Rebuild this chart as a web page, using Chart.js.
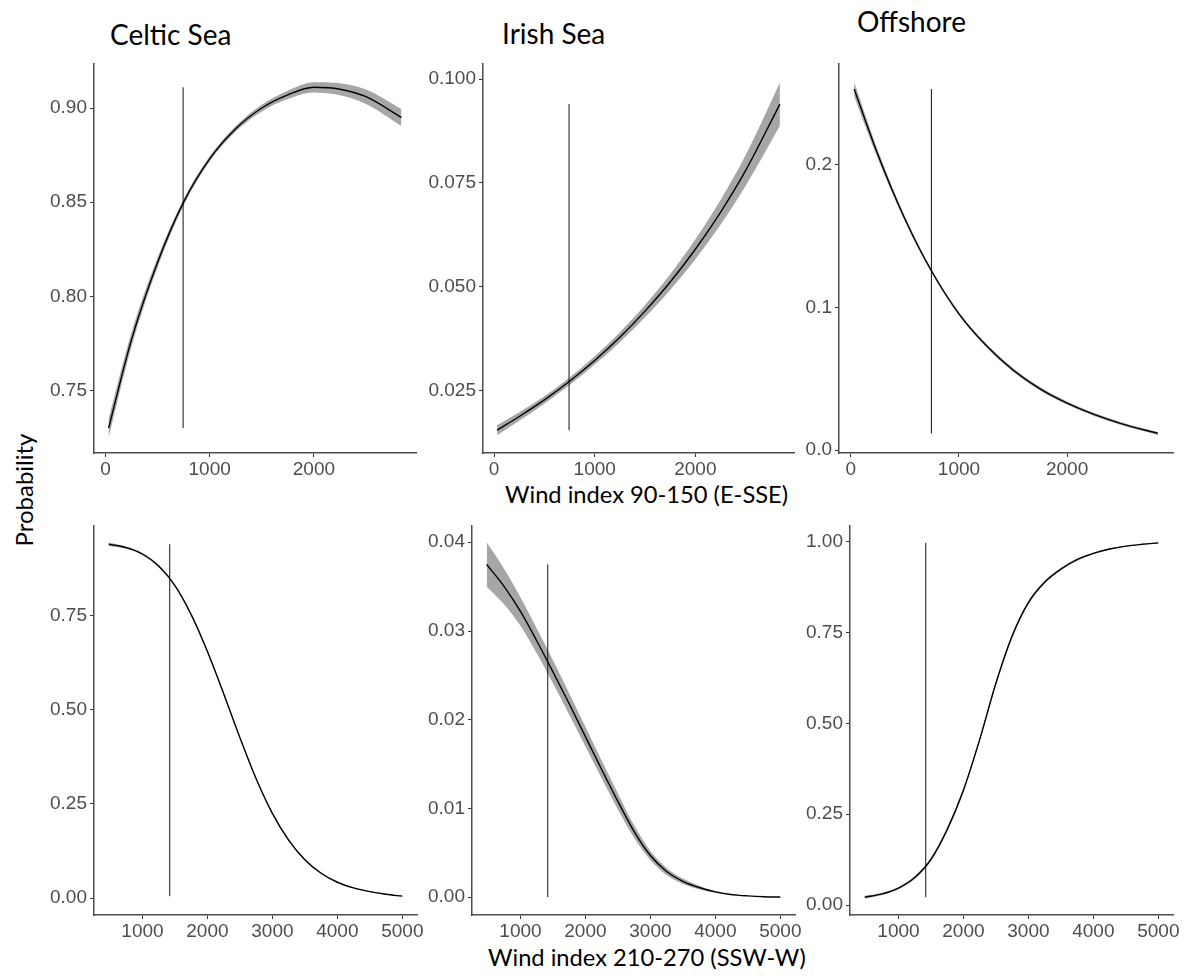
<!DOCTYPE html>
<html>
<head>
<meta charset="utf-8">
<title>Wind index effects</title>
<script src="https://cdn.jsdelivr.net/npm/chart.js@4.4.1/dist/chart.umd.min.js"></script>
<style>
  body { margin: 0; background: #fff; width: 1194px; height: 976px; position: relative; overflow: hidden; }
  canvas { position: absolute; }
  .lbl { position: absolute; font-family: Lato, "Open Sans", sans-serif; color: #000; line-height: 1; white-space: nowrap; }
</style>
</head>
<body>
<div class="lbl" style="left:110px; top:20px; font-size:28px">Celtic Sea</div>
<div class="lbl" style="left:502px; top:19px; font-size:28px">Irish Sea</div>
<div class="lbl" style="left:857px; top:7px; font-size:28px">Offshore</div>
<div class="lbl" style="left:505px; top:483px; font-size:23.7px">Wind index 90-150 (E-SSE)</div>
<div class="lbl" style="left:488px; top:946px; font-size:23.7px">Wind index 210-270 (SSW-W)</div>
<div class="lbl" style="left:24px; top:490px; font-size:24px; transform:translate(-50%,-50%) rotate(-90deg)">Probability</div>

<script>
// wind index values the models were predicted at
var windE = [30, 250, 500, 750, 1000, 1250, 1500, 1750, 2000, 2250, 2500, 2840];
var windW = [480, 750, 1000, 1250, 1500, 1750, 2000, 2250, 2500, 2750, 3000, 3250, 3500, 3750, 4000, 4250, 4500, 4750, 5000];

// mean wind index (vertical reference line)
var meanE = 745;
var meanW = 1420;

// predicted probability and half width of the confidence band, E-SSE wind
var celticE     = [0.730, 0.777, 0.818, 0.850, 0.873, 0.889, 0.900, 0.907, 0.911, 0.910, 0.906, 0.895];
var celticEBand = [0.005, 0.0038, 0.0026, 0.0017, 0.0014, 0.0015, 0.0018, 0.0022, 0.0027, 0.0032, 0.0038, 0.0045];
var irishE      = [0.0154, 0.0187, 0.0227, 0.0272, 0.0322, 0.0378, 0.0441, 0.0511, 0.0590, 0.0679, 0.0780, 0.0940];
var irishEBand  = [0.0012, 0.001, 0.0009, 0.0009, 0.001, 0.0012, 0.0015, 0.0019, 0.0024, 0.003, 0.0037, 0.0052];
var offE        = [0.253, 0.207, 0.162, 0.125, 0.0955, 0.0735, 0.0562, 0.0430, 0.0330, 0.0250, 0.0186, 0.0117];
var offEBand    = [0.005, 0.003, 0.0018, 0.0012, 0.0012, 0.0013, 0.0013, 0.0012, 0.0011, 0.001, 0.001, 0.001];

// predicted probability and half width of the confidence band, SSW-W wind
var celticW     = [0.940, 0.931, 0.914, 0.882, 0.830, 0.753, 0.655, 0.543, 0.426, 0.317, 0.225, 0.154, 0.102, 0.066, 0.042, 0.027, 0.017, 0.010, 0.005];
var celticWBand = [0.004, 0.003, 0.003, 0.003, 0.003, 0.003, 0.003, 0.003, 0.003, 0.003, 0.003, 0.003, 0.002, 0.002, 0.0015, 0.001, 0.001, 0.001, 0.001];
var irishW      = [0.0375, 0.0350, 0.0322, 0.0289, 0.0254, 0.0218, 0.0181, 0.0144, 0.0108, 0.0074, 0.0047, 0.0029, 0.0018, 0.0011, 0.0006, 0.0003, 0.00015, 0.00006, 0.00002];
var irishWBand  = [0.0025, 0.0020, 0.0016, 0.0014, 0.0013, 0.0012, 0.0011, 0.0010, 0.0009, 0.0007, 0.0005, 0.0004, 0.0003, 0.0002, 0.0001, 0.0001, 0, 0, 0];
var offW        = [0.022, 0.031, 0.047, 0.076, 0.126, 0.208, 0.316, 0.455, 0.610, 0.740, 0.832, 0.888, 0.924, 0.950, 0.967, 0.979, 0.987, 0.992, 0.996];
var offWBand    = [0.004, 0.003, 0.003, 0.004, 0.005, 0.006, 0.006, 0.006, 0.006, 0.006, 0.005, 0.004, 0.003, 0.003, 0.002, 0.002, 0.001, 0.001, 0.001];

// axis ranges and tick labels
var xRangeE = [-110, 2980];
var xRangeW = [254, 5226];
var xTicksE = [0, 1000, 2000];
var xTicksW = [1000, 2000, 3000, 4000, 5000];

var panels = [
  { x: windE, fit: celticE, band: celticEBand, mean: meanE, xr: xRangeE, xt: xTicksE,
    yr: [0.7168, 0.9237], yt: [0.75, 0.80, 0.85, 0.90], dp: 2, box: [94, 61, 416, 453] },
  { x: windE, fit: irishE, band: irishEBand, mean: meanE, xr: xRangeE, xt: xTicksE,
    yr: [0.0099, 0.1038], yt: [0.025, 0.050, 0.075, 0.100], dp: 3, box: [483, 61, 794, 453] },
  { x: windE, fit: offE, band: offEBand, mean: meanE, xr: xRangeE, xt: xTicksE,
    yr: [-0.002, 0.271], yt: [0.0, 0.1, 0.2], dp: 1, box: [839, 61, 1173, 453] },
  { x: windW, fit: celticW, band: celticWBand, mean: meanW, xr: xRangeW, xt: xTicksW,
    yr: [-0.045, 0.990], yt: [0, 0.25, 0.5, 0.75], dp: 2, box: [94, 523, 417, 915] },
  { x: windW, fit: irishW, band: irishWBand, mean: meanW, xr: xRangeW, xt: xTicksW,
    yr: [-0.002, 0.0419], yt: [0, 0.01, 0.02, 0.03, 0.04], dp: 2, box: [472, 523, 795, 915] },
  { x: windW, fit: offW, band: offWBand, mean: meanW, xr: xRangeW, xt: xTicksW,
    yr: [-0.027, 1.044], yt: [0, 0.25, 0.5, 0.75, 1.0], dp: 2, box: [850, 523, 1173, 915] }
];

var pad = { left: 80, top: 12, right: 26, bottom: 36 };
var tickFont = { family: 'Liberation Sans', size: 19 };

function buildPanel(p) {
  var canvas = document.createElement('canvas');
  canvas.width = p.box[2] - p.box[0] + pad.left + pad.right;
  canvas.height = p.box[3] - p.box[1] + pad.top + pad.bottom;
  canvas.style.left = (p.box[0] - pad.left) + 'px';
  canvas.style.top = (p.box[1] - pad.top) + 'px';
  document.body.appendChild(canvas);

  var upper = p.x.map(function (x, i) { return { x: x, y: p.fit[i] + p.band[i] }; });
  var lower = p.x.map(function (x, i) { return { x: x, y: p.fit[i] - p.band[i] }; });
  var fitted = p.x.map(function (x, i) { return { x: x, y: p.fit[i] }; });
  var lo = Math.min.apply(null, p.fit);
  var hi = Math.max.apply(null, p.fit);

  new Chart(canvas.getContext('2d'), {
    type: 'line',
    data: {
      datasets: [
        { data: upper, fill: '+1', backgroundColor: 'rgba(150,150,150,0.85)', borderColor: 'rgba(0,0,0,0)',
          pointRadius: 0, cubicInterpolationMode: 'monotone' },
        { data: lower, fill: false, borderColor: 'rgba(0,0,0,0)', pointRadius: 0, cubicInterpolationMode: 'monotone' },
        { data: fitted, fill: false, borderColor: '#000', borderWidth: 1.4, pointRadius: 0, cubicInterpolationMode: 'monotone' },
        { data: [{ x: p.mean, y: lo }, { x: p.mean, y: hi }], fill: false, borderColor: '#111', borderWidth: 1, pointRadius: 0 }
      ]
    },
    options: {
      responsive: false,
      animation: false,
      layout: { padding: { left: 0, top: pad.top, right: pad.right, bottom: 0 } },
      plugins: {
        legend: { display: false },
        tooltip: { enabled: false },
        filler: { drawTime: 'beforeDatasetsDraw' }
      },
      scales: {
        x: {
          type: 'linear', min: p.xr[0], max: p.xr[1],
          afterBuildTicks: function (s) { s.ticks = p.xt.map(function (v) { return { value: v }; }); },
          afterFit: function (s) { s.height = pad.bottom; },
          ticks: { font: tickFont, color: '#4d4d4d', padding: 1, maxRotation: 0, autoSkip: false,
                   callback: function (v) { return String(v); } },
          grid: { display: true, drawOnChartArea: false, drawTicks: true, tickLength: 4, color: '#333' },
          border: { display: true, color: '#4d4d4d', width: 1.5 }
        },
        y: {
          type: 'linear', min: p.yr[0], max: p.yr[1],
          afterBuildTicks: function (s) { s.ticks = p.yt.map(function (v) { return { value: v }; }); },
          afterFit: function (s) { s.width = pad.left; },
          ticks: { font: tickFont, color: '#4d4d4d', padding: 3, autoSkip: false,
                   callback: function (v) { return v.toFixed(p.dp); } },
          grid: { display: true, drawOnChartArea: false, drawTicks: true, tickLength: 4, color: '#333' },
          border: { display: true, color: '#4d4d4d', width: 1.5 }
        }
      }
    }
  });
}

panels.forEach(buildPanel);
</script>
</body>
</html>
